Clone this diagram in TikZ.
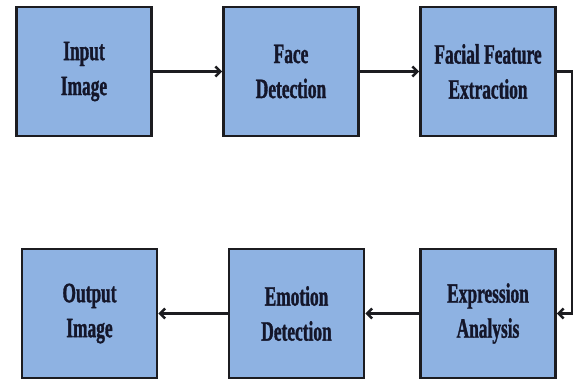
\documentclass[tikz,border=0pt]{standalone}
\usepackage{fontspec}
\usetikzlibrary{arrows.meta}
\newfontfamily\boxfont{Liberation Serif}[FakeStretch=0.62, FakeBold=1.2]
\definecolor{boxblue}{RGB}{142,178,226}
\definecolor{boxline}{RGB}{28,28,32}
\definecolor{boxtext}{RGB}{20,22,42}

\begin{document}
\begin{tikzpicture}[x=1pt, y=-1pt,
  >={Straight Barb[length=5pt, width=10pt]}]
          \useasboundingbox (0,0) rectangle (578,381);
          \begin{scope}[every node/.style={rectangle, draw=boxline, fill=boxblue, line width=2.6pt,
              minimum width=135pt, minimum height=129pt, inner sep=0pt, align=center,
              text=boxtext, font=\boxfont\bfseries\fontsize{28}{35}\selectfont}]
          \node (1) at (84,71.5) {Input\\Image};
          \node (2) at (291,71.5) {Face\\Detection};
          \node (3) at (488,71.5) {Facial Feature\\Extraction};
          \node (4) at (488,313.5) {Expression\\Analysis};
          \node (5) at (296.5,313.5) {Emotion\\Detection};
          \node (6) at (89.5,313.5) {Output\\Image};
          \end{scope}
          \coordinate (bend) at (572,71.5);
          \begin{scope}[draw=boxline, line width=2.6pt]
          \draw[->] (1)--(2);
          \draw[->] (2)--(3);
          \draw[->] (3)--(bend)|-(4);
          \draw[->] (4)--(5);
          \draw[->] (5)--(6);
          \end{scope}
          \end{tikzpicture}
\end{document}
